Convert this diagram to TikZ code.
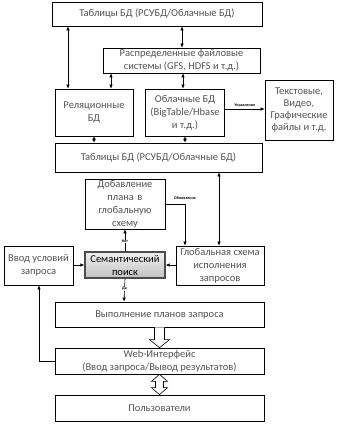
\documentclass[tikz,border=0pt]{standalone}
\usepackage{fontspec}
\setmainfont{Carlito}
\usetikzlibrary{arrows.meta,calc,shadows}
\definecolor{txt}{gray}{0.33}
\tikzset{
  x=1pt,y=-1pt,
  box/.style={draw=black,line width=0.7pt,fill=white,text=txt,align=center,inner sep=1pt,font=\fontsize{10.5}{13}\selectfont},
  sem/.style={draw=gray!60!black,line width=1.3pt,top color=gray!12,bottom color=gray!48,text=black,align=center,inner sep=1pt,font=\fontsize{10.5}{13}\selectfont,drop shadow={shadow xshift=1pt,shadow yshift=-1pt,opacity=0.4}},
  conn/.style={line width=0.6pt,-{Latex[length=4pt,width=3.5pt]}},
  dbl/.style={line width=0.6pt,{Latex[length=4pt,width=3.5pt]}-{Latex[length=4pt,width=3.5pt]}},
  tiny/.style={font=\fontsize{4}{4}\bfseries\selectfont,fill=white,inner sep=0.5pt,text=black},
  hollow/.style={draw=black,line width=0.6pt,fill=white}
}
\begin{document}
\begin{tikzpicture}
\useasboundingbox (0,0) rectangle (340,425);
\node[box,minimum width=210,minimum height=24] (t1) at (157,14) {Таблицы БД (РСУБД/Облачные БД)};
\node[box,minimum width=157,minimum height=25] (dfs) at (181.5,60.5) {Распределенные файловые\\системы (GFS, HDFS и т.д.)};
\node[box,minimum width=78,minimum height=47] (rel) at (94,112.5) {Реляционные\\БД};
\node[box,minimum width=79,minimum height=47] (cl) at (185,112.5) {Облачные БД\\(BigTable/Hbase\\и т.д.)};
\node[box,minimum width=68,minimum height=60,font=\fontsize{10.5}{12}\selectfont] (tx) at (299,110) {Текстовые,\\Видео,\\Графические\\файлы и т.д.};
\node[box,minimum width=207,minimum height=29] (t2) at (158.5,157.5) {Таблицы БД (РСУБД/Облачные БД)};
\node[box,minimum width=80,minimum height=50,text width=76] (add) at (125,204) {Добавление\\плана в\\глобальную\\схему};
\node[box,minimum width=69,minimum height=39] (inp) at (38.5,265.5) {Ввод условий\\запроса};
\node[sem,minimum width=80,minimum height=26] (sem) at (125,265) {Семантический\\поиск};
\node[box,minimum width=88,minimum height=39] (glob) at (220,265.5) {Глобальная схема\\исполнения\\запросов};
\node[box,minimum width=209,minimum height=25] (exe) at (159.5,314.5) {Выполнение планов запроса};
\node[box,minimum width=209,minimum height=26] (web) at (159.5,361) {Web-Интерфейс\\(Ввод запроса/Вывод результатов)};
\node[box,minimum width=209,minimum height=26] (usr) at (159.5,408) {Пользователи};
% connectors
\draw[dbl] (68,0 |- t1.south) -- (68,0 |- rel.north);
\draw[dbl] (182,0 |- t1.south) -- (182,0 |- dfs.north);
\draw[dbl] (111,0 |- dfs.south) -- (111,0 |- rel.north);
\draw[dbl] (183,0 |- dfs.south) -- (183,0 |- cl.north);
\draw[dbl] (94,0 |- rel.south) -- (94,0 |- t2.north);
\draw[dbl] (185,0 |- cl.south) -- (185,0 |- t2.north);
\draw[conn] (cl.east |- 0,109) -- (tx.west |- 0,109) node[tiny,midway,above=1pt] {Управление};
\draw[dbl] (219,0 |- t2.south) -- (219,0 |- glob.north);
\draw[conn] (add.east |- 0,204) -| (185,0 |- glob.north) coordinate[pos=0.5] (c1);
\node[tiny,anchor=south] (lupd) at ($(c1)+(0,-4)$) {Обновление};
\draw[conn] (sem.north) -- (add.south) node[tiny,pos=0.45] {Нет};
\draw[conn] (inp.east |- sem.west) -- (sem.west);
\draw[conn] (glob.west |- sem.east) -- (sem.east);
\draw[conn] (sem.south) -- (124,0 |- exe.north) node[tiny,pos=0.45] {Да};
\draw[conn] (web.west) -| (39,0 |- inp.south);
% hollow arrows
\draw[hollow] ($(exe.south)+(-5,0)$) -- ($(web.north)+(-5,-8)$) -- ($(web.north)+(-10,-8)$) -- (web.north) -- ($(web.north)+(10,-8)$) -- ($(web.north)+(5,-8)$) -- ($(exe.south)+(5,0)$);
\draw[hollow] (usr.north) -- ($(usr.north)+(-8,-7)$) -- ($(usr.north)+(-4,-7)$) -- ($(web.south)+(-4,7)$) -- ($(web.south)+(-8,7)$) -- (web.south) -- ($(web.south)+(8,7)$) -- ($(web.south)+(4,7)$) -- ($(usr.north)+(4,-7)$) -- ($(usr.north)+(8,-7)$) -- cycle;
\end{tikzpicture}
\end{document}
